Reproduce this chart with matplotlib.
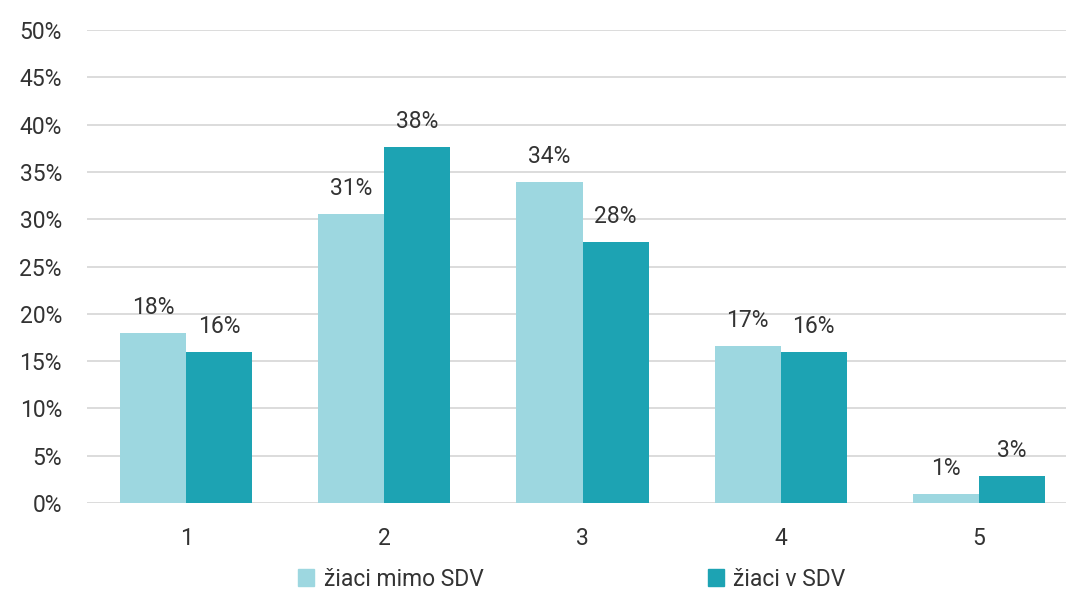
import matplotlib
matplotlib.use("Agg")
import matplotlib.pyplot as plt
from matplotlib.patches import Patch
import numpy as np

categories = ["1", "2", "3", "4", "5"]
mimo_sdv = [18.0, 30.6, 33.9, 16.6, 0.95]
v_sdv = [16.0, 37.6, 27.6, 16.0, 2.85]
series_names = ["žiaci mimo SDV", "žiaci v SDV"]
yticks = [0, 5, 10, 15, 20, 25, 30, 35, 40, 45, 50]

c_light = "#9DD7E0"
c_dark = "#1DA3B3"
txt = "#333333"

plt.rcParams['font.family'] = ['Roboto', 'DejaVu Sans']

fig = plt.figure(figsize=(10.66, 5.92), dpi=100)
ax = fig.add_axes([87/1066, 1-503/592, (1078-87)/1066, (503-30)/592])

x = np.arange(len(categories))
w = 0.333
b1 = ax.bar(x - w/2, mimo_sdv, w, color=c_light, zorder=3)
b2 = ax.bar(x + w/2, v_sdv, w, color=c_dark, zorder=3)

for bars, vals in ((b1, mimo_sdv), (b2, v_sdv)):
    for r, v in zip(bars, vals):
        ax.annotate(f"{round(v):d}%", (r.get_x() + r.get_width()/2, v),
                    xytext=(0, 10), textcoords="offset points",
                    ha="center", va="bottom", fontsize=16.5, color=txt)

ax.set_xlim(-0.5, len(categories) - 0.5)
ax.set_ylim(0, 50)
ax.set_yticks(yticks)
ax.set_yticklabels([f"{t}%" for t in yticks])
ax.set_xticks(x)
ax.set_xticklabels(categories)
ax.tick_params(axis='both', length=0, labelsize=16.5, colors=txt)
ax.tick_params(axis='y', pad=18)
ax.tick_params(axis='x', pad=17)
ax.grid(axis='y', color="#D9D9D9", linewidth=1.3, zorder=0)
for s in ax.spines.values():
    s.set_visible(False)

handles = [Patch(color=c_light), Patch(color=c_dark)]
fig.legend(handles, series_names, loc='center', bbox_to_anchor=(572/1066, 1-579/592),
           ncol=2, frameon=False, fontsize=16.5, handlelength=0.7, handleheight=0.7,
           handletextpad=0.4, columnspacing=9.8, labelcolor=txt)

fig.savefig("out.png", dpi=100)
